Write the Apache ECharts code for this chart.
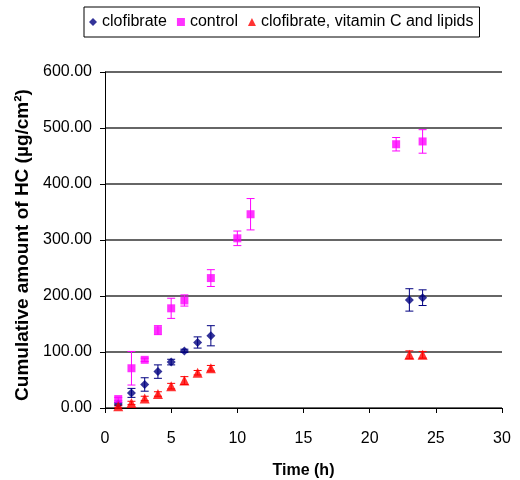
<!DOCTYPE html>
<html>
<head>
<meta charset="utf-8">
<script src="https://cdn.jsdelivr.net/npm/echarts@6/dist/echarts.min.js"></script>
<style>html,body{margin:0;padding:0;background:#fff;}#c{width:520px;height:480px;}</style>
</head>
<body>
<div id="c"></div>
<script>
// Data (time h, mean, error)
var clofTime = [1, 2, 3, 4, 5, 6, 7, 8, 23, 24];
var clofMean = [7, 27, 42, 65, 82, 102, 117, 129, 193, 197];
var clofErr  = [3, 8, 12, 12, 5, 3, 10, 18, 20, 14];

var ctrlTime = [1, 2, 3, 4, 5, 6, 8, 10, 11, 22, 24];
var ctrlMean = [16, 71, 86, 139, 178, 192, 232, 303, 346, 471, 476];
var ctrlErr  = [3, 30, 3, 8, 18, 10, 15, 13, 28, 12, 21];

var vitTime = [1, 2, 3, 4, 5, 6, 7, 8, 23, 24];
var vitMean = [3, 9, 17, 25, 39, 49, 63, 71, 95, 95];
var vitErr  = [2, 3, 4, 4, 5, 7, 4, 5, 7, 6];

var names = ['clofibrate', 'control', 'clofibrate, vitamin C and lipids'];
var yTicks = [0, 100, 200, 300, 400, 500, 600];

function pts(t, m) { return t.map(function (v, i) { return [v, m[i]]; }); }
function errs(t, m, e) { return t.map(function (v, i) { return [v, m[i] - e[i], m[i] + e[i]]; }); }

function errSeries(data, color) {
  return {
    type: 'custom',
    silent: true,
    z: 1,
    data: data,
    encode: { x: 0, y: [1, 2] },
    renderItem: function (params, api) {
      var x = api.value(0);
      var lo = api.coord([x, api.value(1)]);
      var hi = api.coord([x, api.value(2)]);
      var w = 4;
      var st = { stroke: color, lineWidth: 1 };
      return {
        type: 'group',
        children: [
          { type: 'line', shape: { x1: lo[0], y1: lo[1], x2: hi[0], y2: hi[1] }, style: st },
          { type: 'line', shape: { x1: lo[0] - w, y1: lo[1], x2: lo[0] + w, y2: lo[1] }, style: st },
          { type: 'line', shape: { x1: hi[0] - w, y1: hi[1], x2: hi[0] + w, y2: hi[1] }, style: st }
        ]
      };
    }
  };
}

var chart = echarts.init(document.getElementById('c'), null, { renderer: 'canvas' });
var font = 'Liberation Sans, Arial, sans-serif';
chart.setOption({
  animation: false,
  backgroundColor: '#fff',
  textStyle: { fontFamily: font },
  legend: {
    data: [
      { name: names[0], icon: 'diamond' },
      { name: names[1], icon: 'rect' },
      { name: names[2], icon: 'triangle' }
    ],
    left: 84, top: 7,
    borderColor: '#000', borderWidth: 1,
    padding: [7, 6, 7, 5],
    itemWidth: 8, itemHeight: 8, itemGap: 10,
    textStyle: { fontSize: 16, color: '#000', fontFamily: font }
  },
  grid: { left: 105, right: 18, top: 72, bottom: 72, outerBoundsMode: 'none', containLabel: false },
  xAxis: {
    type: 'value', min: 0, max: 30, interval: 5,
    name: 'Time (h)', nameLocation: 'middle', nameGap: 55,
    nameTextStyle: { fontWeight: 'bold', fontSize: 16, color: '#000', fontFamily: font },
    axisLine: { show: true, lineStyle: { color: '#000', width: 1 } },
    axisTick: { show: true, length: 5, lineStyle: { color: '#000' } },
    axisLabel: { color: '#000', fontSize: 16, margin: 23, fontFamily: font },
    splitLine: { show: false }
  },
  yAxis: {
    type: 'value', min: 0, max: 600, interval: 100,
    name: 'Cumulative amount of HC (µg/cm²)', nameLocation: 'middle', nameGap: 71,
    nameTextStyle: { fontWeight: 'bold', fontSize: 19, color: '#000', fontFamily: font,
      padding: [0, 10, 0, 0] },
    axisLine: { show: true, lineStyle: { color: '#000', width: 1 } },
    axisTick: { show: true, length: 5, lineStyle: { color: '#000' } },
    axisLabel: { color: '#000', fontSize: 16, margin: 13, fontFamily: font,
      formatter: function (v) { return v.toFixed(2); } },
    splitLine: { show: true, lineStyle: { color: '#333', width: 1.5 } }
  },
  series: [
    errSeries(errs(clofTime, clofMean, clofErr), '#000080'),
    errSeries(errs(ctrlTime, ctrlMean, ctrlErr), '#ff00ff'),
    errSeries(errs(vitTime, vitMean, vitErr), '#ff0000'),
    { name: names[0], type: 'scatter', symbol: 'diamond', symbolSize: 9, z: 3,
      itemStyle: { color: '#000080' }, data: pts(clofTime, clofMean) },
    { name: names[1], type: 'scatter', symbol: 'rect', symbolSize: 8, z: 3,
      itemStyle: { color: '#ff00ff' }, data: pts(ctrlTime, ctrlMean) },
    { name: names[2], type: 'scatter', symbol: 'triangle', symbolSize: 10, z: 3,
      itemStyle: { color: '#ff0000' }, data: pts(vitTime, vitMean) }
  ]
});
</script>
</body>
</html>
